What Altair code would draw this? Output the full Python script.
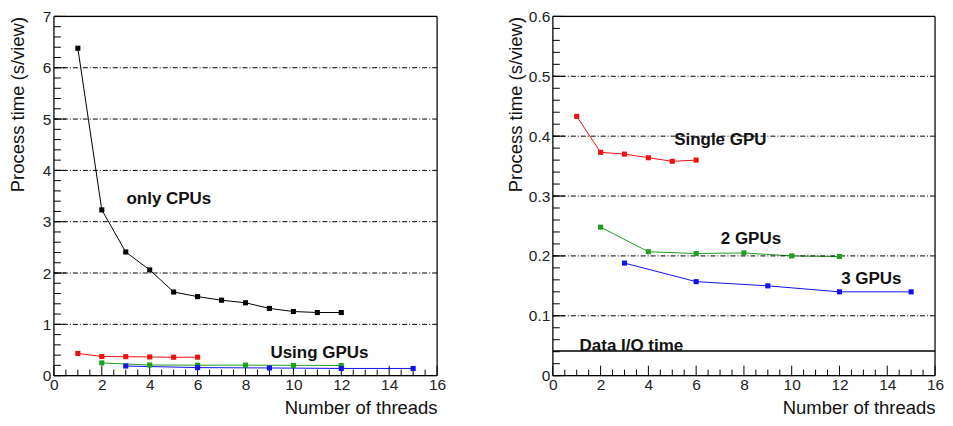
import altair as alt
import pandas as pd
import numpy as np

# ---- data ----
cpu_threads = [1, 2, 3, 4, 5, 6, 7, 8, 9, 10, 11, 12]
cpu_time = [6.38, 3.23, 2.41, 2.06, 1.63, 1.54, 1.47, 1.42, 1.31, 1.25, 1.23, 1.23]

gpu1_threads = [1, 2, 3, 4, 5, 6]
gpu1_time = [0.433, 0.373, 0.370, 0.364, 0.358, 0.360]

gpu2_threads = [2, 4, 6, 8, 10, 12]
gpu2_time = [0.248, 0.207, 0.204, 0.205, 0.200, 0.199]

gpu3_threads = [3, 6, 9, 12, 15]
gpu3_time = [0.188, 0.157, 0.150, 0.140, 0.140]

io_time = [0.041]

left_labels = ["only CPUs", "Using GPUs"]
left_label_x = [3.03, 9.04]
left_label_y = [3.45, 0.44]

right_labels = ["Single GPU", "2 GPUs", "3 GPUs", "Data I/O time"]
right_label_x = [5.08, 7.03, 12.07, 1.12]
right_label_y = [0.393, 0.228, 0.161, 0.049]

x_major = [0, 2, 4, 6, 8, 10, 12, 14, 16]
x_minor = [v for v in np.arange(0, 16.01, 0.5).round(2).tolist() if v not in x_major]
left_y_major = [0, 1, 2, 3, 4, 5, 6, 7]
left_y_minor = np.arange(0, 7.001, 0.2).round(2).tolist()
right_y_major = [0, 0.1, 0.2, 0.3, 0.4, 0.5, 0.6]
right_y_minor = np.arange(0, 0.6001, 0.02).round(3).tolist()

series_names = ["CPU", "1 GPU", "2 GPUs", "3 GPUs"]
series_colors = ["#000000", "#ee1111", "#1f9e1f", "#1111ee"]

FONT = "Liberation Sans"
W_L, W_R, H = 384, 383, 360


def series_df(names):
    rows = []
    data = {
        "CPU": (cpu_threads, cpu_time),
        "1 GPU": (gpu1_threads, gpu1_time),
        "2 GPUs": (gpu2_threads, gpu2_time),
        "3 GPUs": (gpu3_threads, gpu3_time),
    }
    for n in names:
        xs, ys = data[n]
        for a, b in zip(xs, ys):
            rows.append({"threads": a, "time": b, "series": n})
    return pd.DataFrame(rows)


def panel(df, ymax, y_major, y_minor, labels, lx, ly, width, title_x, yfmt, io=False):
    xmax = x_major[-1]
    xs = alt.Scale(domain=[0, xmax], nice=False, zero=False)
    ys = alt.Scale(domain=[0, ymax], nice=False, zero=False)
    color = alt.Color("series:N", scale=alt.Scale(domain=series_names, range=series_colors), legend=None)

    x_axis = alt.Axis(values=x_major, ticks=False, domain=False, grid=False, labelFont=FONT,
                      labelFontSize=15.5, labelColor="#222", labelPadding=2,
                      title="Number of threads",
                      titleFont=FONT, titleFontSize=18.5, titleFontWeight="normal", titleColor="#111",
                      titleAnchor="end", titleAlign="right", titleX=width, titleY=38,
                      titleBaseline="alphabetic", labelFlush=False, format="d")
    y_axis = alt.Axis(values=y_major, ticks=False, domain=False, grid=False, labelFont=FONT,
                      labelFontSize=15.5, labelColor="#222", labelPadding=3,
                      title="Process time (s/view)",
                      titleFont=FONT, titleFontSize=18.5, titleFontWeight="normal", titleColor="#111",
                      titleAngle=-90, titleAlign="right", titleBaseline="bottom", titleX=title_x,
                      titleY=0, labelFlush=False, format=yfmt)

    lines = alt.Chart(df).mark_line(strokeWidth=1).encode(
        x=alt.X("threads:Q", scale=xs, axis=x_axis),
        y=alt.Y("time:Q", scale=ys, axis=y_axis),
        color=color, detail="series:N")
    pts = alt.Chart(df).mark_square(size=26, opacity=1, filled=True).encode(
        x=alt.X("threads:Q", scale=xs), y=alt.Y("time:Q", scale=ys), color=color)

    grid_df = pd.DataFrame({"g": [v for v in y_major if 0 < v < ymax]})
    grid = alt.Chart(grid_df).mark_rule(color="black", strokeWidth=1, strokeDash=[5, 2, 1, 2]).encode(
        y=alt.Y("g:Q", scale=ys))

    # plot frame
    frame_h = alt.Chart(pd.DataFrame({"fy": [y_major[0], y_major[-1]]})).mark_rule(
        color="black", strokeWidth=1.2).encode(y=alt.Y("fy:Q", scale=ys))
    frame_v = alt.Chart(pd.DataFrame({"fx": [x_major[0], x_major[-1]]})).mark_rule(
        color="black", strokeWidth=1.2).encode(x=alt.X("fx:Q", scale=xs))

    # inward ticks, lengths given in pixels and converted to data units
    def ytick(values, px, name):
        return alt.Chart(pd.DataFrame({name: values})).transform_calculate(
            tx0="0", tx1=str(xmax * px / width)
        ).mark_rule(color="black", strokeWidth=1).encode(
            y=alt.Y(f"{name}:Q", scale=ys),
            x=alt.X("tx0:Q", scale=xs), x2="tx1:Q")

    def xtick(values, px, name):
        return alt.Chart(pd.DataFrame({name: values})).transform_calculate(
            ty0="0", ty1=str(ymax * px / H)
        ).mark_rule(color="black", strokeWidth=1).encode(
            x=alt.X(f"{name}:Q", scale=xs),
            y=alt.Y("ty0:Q", scale=ys), y2="ty1:Q")

    ymin = ytick(y_minor, 7, "ymn")
    ymaj = ytick(y_major, 12, "ymj")
    xmin = xtick(x_minor, 6, "xmn")
    xmaj = xtick(x_major, 10, "xmj")

    txt_df = pd.DataFrame({"label": labels, "x": lx, "y": ly})
    txt = alt.Chart(txt_df).mark_text(font=FONT, fontSize=17, fontWeight="bold", align="left",
                                      baseline="middle", color="#111").encode(
        x=alt.X("x:Q", scale=xs), y=alt.Y("y:Q", scale=ys), text="label:N")

    layers = [lines, grid, frame_h, frame_v, ymin, ymaj, xmin, xmaj, pts, txt]
    if io:
        io_df = pd.DataFrame({"io": io_time})
        layers.insert(1, alt.Chart(io_df).mark_rule(color="black", strokeWidth=1.5).encode(
            y=alt.Y("io:Q", scale=ys)))
    return alt.layer(*layers).properties(width=width, height=H)


left = panel(series_df(series_names), 7, left_y_major, left_y_minor,
             left_labels, left_label_x, left_label_y, W_L, -26, "d")
right = panel(series_df(series_names[1:]), 0.6, right_y_major, right_y_minor,
              right_labels, right_label_x, right_label_y, W_R, -27, ".1~f", io=True)

chart = alt.hconcat(left, right, spacing=116, bounds="flush").properties(
    padding={"left": 0, "top": 0, "right": 0, "bottom": 0},
)

chart.save("out.html", embed_options={"renderer": "svg", "actions": False})
